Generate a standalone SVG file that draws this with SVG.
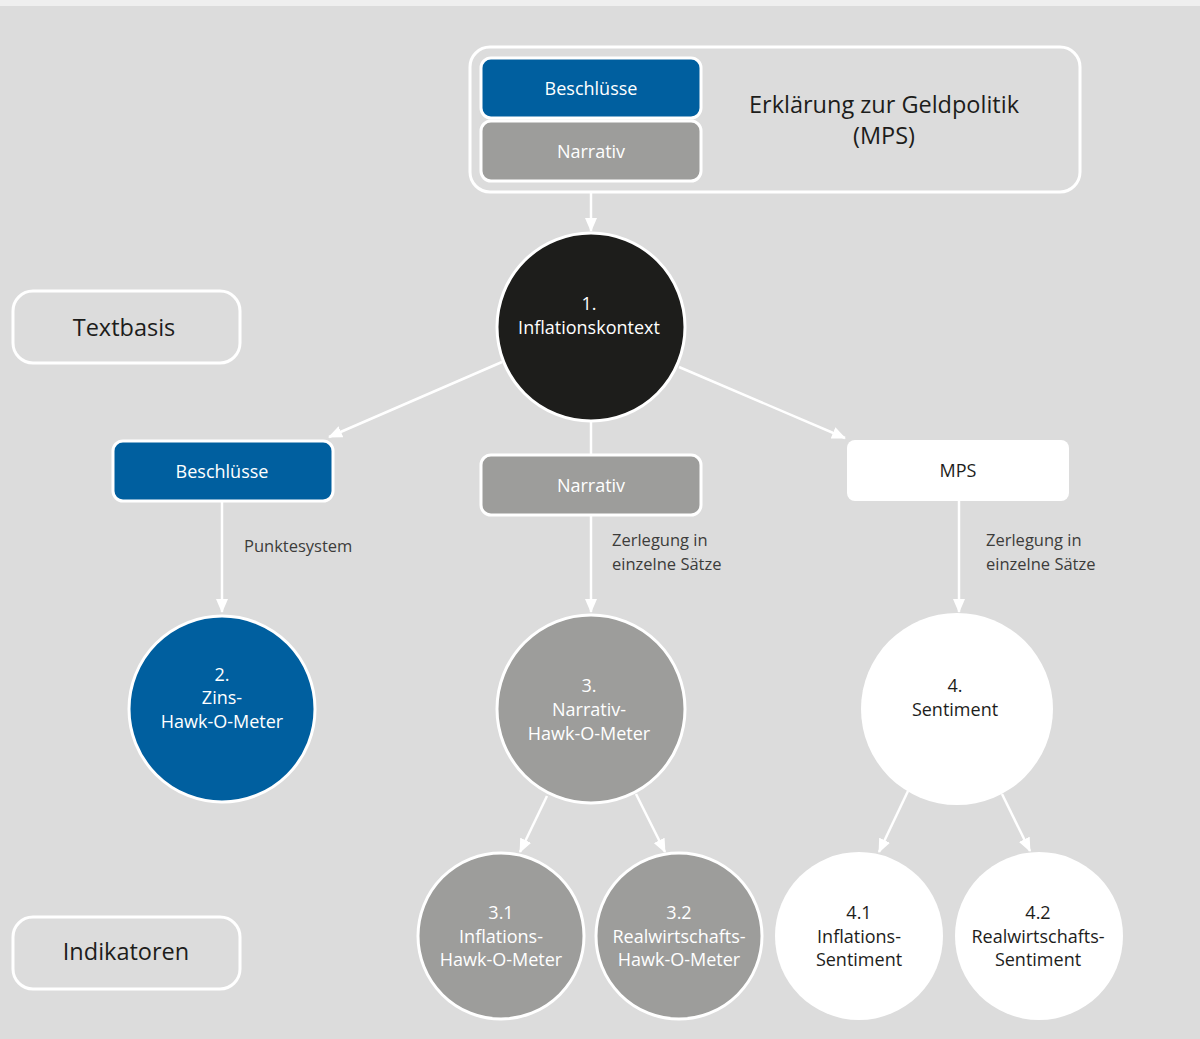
<svg xmlns="http://www.w3.org/2000/svg" width="1200" height="1039" viewBox="0 0 1200 1039">
<defs>
<marker id="ah" markerWidth="14" markerHeight="12" refX="13" refY="6" orient="auto" markerUnits="userSpaceOnUse">
<path d="M0,0 L14,6 L0,12 Z" fill="#ffffff"/>
</marker>
<style>
.t{font-family:"Open Sans","Noto Sans","Liberation Sans",sans-serif;text-anchor:middle}
.w{fill:#ffffff}
.d{fill:#1d1d1b}
.s17{font-size:18px}
.s24{font-size:23.5px}
.lbl{font-family:"Open Sans","Noto Sans","Liberation Sans",sans-serif;font-size:16.5px;fill:#3c3c3b}
.conn{stroke:#ffffff;stroke-width:2.5;fill:none}
.ws{stroke:#ffffff;stroke-width:3}
.blue{fill:#005f9f}
.grey{fill:#9d9d9b}
.black{fill:#1d1d1b}
.white{fill:#ffffff}
.frame{fill:none;stroke:#ffffff;stroke-width:3}
</style>
</defs>
<rect x="0" y="0" width="1200" height="1039" fill="#dcdcdc"/>
<rect x="0" y="0" width="1200" height="6" fill="#efefef"/>

<g id="connectors">
<line class="conn" x1="591" y1="192" x2="591" y2="231" marker-end="url(#ah)"/>
<line class="conn" x1="502" y1="362" x2="329" y2="437" marker-end="url(#ah)"/>
<line class="conn" x1="679" y1="367" x2="845" y2="438" marker-end="url(#ah)"/>
<line class="conn" x1="591" y1="421" x2="591" y2="455"/>
<line class="conn" x1="222" y1="501" x2="222" y2="612" marker-end="url(#ah)"/>
<line class="conn" x1="591" y1="515" x2="591" y2="612" marker-end="url(#ah)"/>
<line class="conn" x1="959" y1="501" x2="959" y2="612" marker-end="url(#ah)"/>
<line class="conn" x1="547" y1="796" x2="520" y2="852" marker-end="url(#ah)"/>
<line class="conn" x1="636" y1="794" x2="665" y2="852" marker-end="url(#ah)"/>
<line class="conn" x1="908" y1="791" x2="879" y2="852" marker-end="url(#ah)"/>
<line class="conn" x1="1002" y1="794" x2="1030" y2="851" marker-end="url(#ah)"/>
<text class="lbl" x="244" y="552">Punktesystem</text>
<text class="lbl" x="612" y="546">Zerlegung in</text>
<text class="lbl" x="612" y="570">einzelne Sätze</text>
<text class="lbl" x="986" y="546">Zerlegung in</text>
<text class="lbl" x="986" y="570">einzelne Sätze</text>
</g>

<g id="mps-statement">
<rect class="frame" x="470" y="47" width="610" height="145" rx="20"/>
<text class="t d s24" x="884" y="113">Erklärung zur Geldpolitik</text>
<text class="t d s24" x="884" y="144">(MPS)</text>
</g>
<g id="mps-beschluesse">
<rect class="blue ws" x="481" y="58" width="220" height="60" rx="10"/>
<text class="t w s17" x="591" y="95">Beschlüsse</text>
</g>
<g id="mps-narrativ">
<rect class="grey ws" x="481" y="121" width="220" height="60" rx="10"/>
<text class="t w s17" x="591" y="158">Narrativ</text>
</g>

<g id="textbasis">
<rect class="frame" x="13" y="291" width="227" height="72" rx="20"/>
<text class="t d s24" x="124" y="336">Textbasis</text>
</g>
<g id="indikatoren">
<rect class="frame" x="13" y="917" width="227" height="72" rx="20"/>
<text class="t d s24" x="126" y="960">Indikatoren</text>
</g>

<g id="n1">
<circle class="black ws" cx="591" cy="327" r="94"/>
<text class="t w s17" x="589" y="310">1.</text>
<text class="t w s17" x="589" y="334">Inflationskontext</text>
</g>

<g id="beschluesse">
<rect class="blue ws" x="113" y="441" width="220" height="60" rx="10"/>
<text class="t w s17" x="222" y="478">Beschlüsse</text>
</g>
<g id="narrativ">
<rect class="grey ws" x="481" y="455" width="220" height="60" rx="10"/>
<text class="t w s17" x="591" y="492">Narrativ</text>
</g>
<g id="mps">
<rect class="white" x="847" y="440" width="222" height="61" rx="8"/>
<text class="t d s17" x="958" y="477">MPS</text>
</g>

<g id="n2">
<circle class="blue ws" cx="222" cy="709" r="93"/>
<text class="t w s17" x="222" y="681">2.</text>
<text class="t w s17" x="222" y="704">Zins-</text>
<text class="t w s17" x="222" y="728">Hawk-O-Meter</text>
</g>
<g id="n3">
<circle class="grey ws" cx="591" cy="709" r="94"/>
<text class="t w s17" x="589" y="692">3.</text>
<text class="t w s17" x="589" y="716">Narrativ-</text>
<text class="t w s17" x="589" y="740">Hawk-O-Meter</text>
</g>
<g id="n4">
<circle class="white" cx="957" cy="709" r="96"/>
<text class="t d s17" x="955" y="692">4.</text>
<text class="t d s17" x="955" y="716">Sentiment</text>
</g>

<g id="n31">
<circle class="grey ws" cx="501" cy="936" r="83"/>
<text class="t w s17" x="501" y="919">3.1</text>
<text class="t w s17" x="501" y="943">Inflations-</text>
<text class="t w s17" x="501" y="966">Hawk-O-Meter</text>
</g>
<g id="n32">
<circle class="grey ws" cx="679" cy="936" r="83"/>
<text class="t w s17" x="679" y="919">3.2</text>
<text class="t w s17" x="679" y="943">Realwirtschafts-</text>
<text class="t w s17" x="679" y="966">Hawk-O-Meter</text>
</g>
<g id="n41">
<circle class="white" cx="859" cy="936" r="84"/>
<text class="t d s17" x="859" y="919">4.1</text>
<text class="t d s17" x="859" y="943">Inflations-</text>
<text class="t d s17" x="859" y="966">Sentiment</text>
</g>
<g id="n42">
<circle class="white" cx="1039" cy="936" r="84"/>
<text class="t d s17" x="1038" y="919">4.2</text>
<text class="t d s17" x="1038" y="943">Realwirtschafts-</text>
<text class="t d s17" x="1038" y="966">Sentiment</text>
</g>
</svg>
